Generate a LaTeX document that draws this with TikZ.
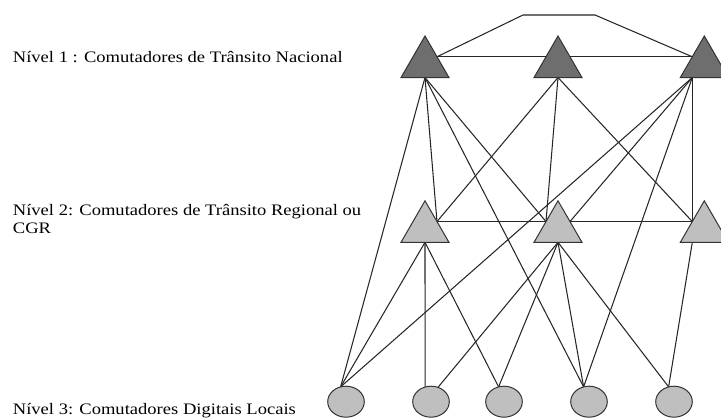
\documentclass[tikz,border=0pt]{standalone}
\usepackage{fontspec}
\setmainfont{Liberation Serif}[FakeStretch=1.16]
\usetikzlibrary{shapes.geometric,backgrounds}

\begin{document}
\begin{tikzpicture}[x=1pt,y=-1pt,
    nivel/.style={regular polygon,regular polygon sides=3,minimum size=55.4pt,
        inner sep=0pt,outer sep=0pt,draw=black!80,line width=1pt},
    nacional/.style={nivel,fill=black!57},
    regional/.style={nivel,fill=black!25},
    local/.style={ellipse,minimum width=36.6pt,minimum height=31pt,inner sep=0pt,
        outer sep=0pt,draw=black!80,line width=1pt,fill=black!25},
    ligacao/.style={draw=black!85,line width=1.05pt},
    rotulo/.style={font=\fontsize{16}{17.4}\selectfont,inner sep=0pt,anchor=base west}]
    % Fix the size of the picture
    \useasboundingbox (0,0) rectangle (721,419);
    \clip (0,0) rectangle (721,419);
    % Three levels of switches
    \node[nacional] (n_1) at (425,63.7) {};
    \node[nacional] (n_2) at (558,63.7) {};
    \node[nacional] (n_3) at (704.3,63.7) {};
    \node[regional] (r_1) at (425,228.5) {};
    \node[regional] (r_2) at (558,228.5) {};
    \node[regional] (r_3) at (704.3,228.5) {};
    \node[local] (l_1) at (346,401.7) {};
    \node[local] (l_2) at (431,401.7) {};
    \node[local] (l_3) at (504,401.7) {};
    \node[local] (l_4) at (589,401.7) {};
    \node[local] (l_5) at (674,401.7) {};
    \coordinate (b_3) at (n_3.side 1 |- n_3.south);
    \coordinate (c_3) at (r_3.side 1 |- r_3.south);
    \coordinate (topo_1) at (523,15);
    \coordinate (topo_2) at (595,15);

    \node[rotulo] (nivel_1) at (12.7,62.3) {Nível 1 : Comutadores de Trânsito Nacional};
    \node[rotulo,align=left] (nivel_2) at (12.7,233.3) {Nível 2: Comutadores de Trânsito Regional ou\\CGR};
    \node[rotulo] (nivel_3) at (12.7,414.5) {Nível 3: Comutadores Digitais Locais};

 \begin{scope}[on background layer]
    \draw[ligacao] (n_1.side 3) -- (n_3.side 1);
    \draw[ligacao] (n_1.side 3) -- (topo_1) -- (topo_2) -- (n_3.side 1);
    \draw[ligacao] (r_1.side 3) -- (r_3.side 1);
    % Nivel 1 to the levels below
    \draw[ligacao] (n_1.south) -- (r_1.side 3);
    \draw[ligacao] (n_1.south) -- (r_2.side 1);
    \draw[ligacao] (n_1.south) -- (l_1.110);
    \draw[ligacao] (n_1.south) -- (l_4.110);
    \draw[ligacao] (n_2.south) -- (r_1.side 3);
    \draw[ligacao] (n_2.south) -- (r_2.side 1);
    \draw[ligacao] (n_2.south) -- (r_3.side 1);
    \draw[ligacao] (b_3) -- (r_2.side 3);
    \draw[ligacao] (b_3) -- (r_3.side 1);
    \draw[ligacao] (b_3) -- (l_1.110);
    \draw[ligacao] (b_3) -- (l_4.110);
    % Nivel 2 to nivel 3
    \draw[ligacao] (r_1.south) -- (l_1.110);
    \draw[ligacao] (r_1.south) -- (l_2.112);
    \draw[ligacao] (r_1.south) -- (l_3.110);
    \draw[ligacao] (r_2.south) -- (l_2.64);
    \draw[ligacao] (r_2.south) -- (l_3.110);
    \draw[ligacao] (r_2.south) -- (l_4.110);
    \draw[ligacao] (r_2.south) -- (l_5.110);
    \draw[ligacao] (c_3) -- (l_5.110);
 \end{scope}
\end{tikzpicture}
\end{document}
